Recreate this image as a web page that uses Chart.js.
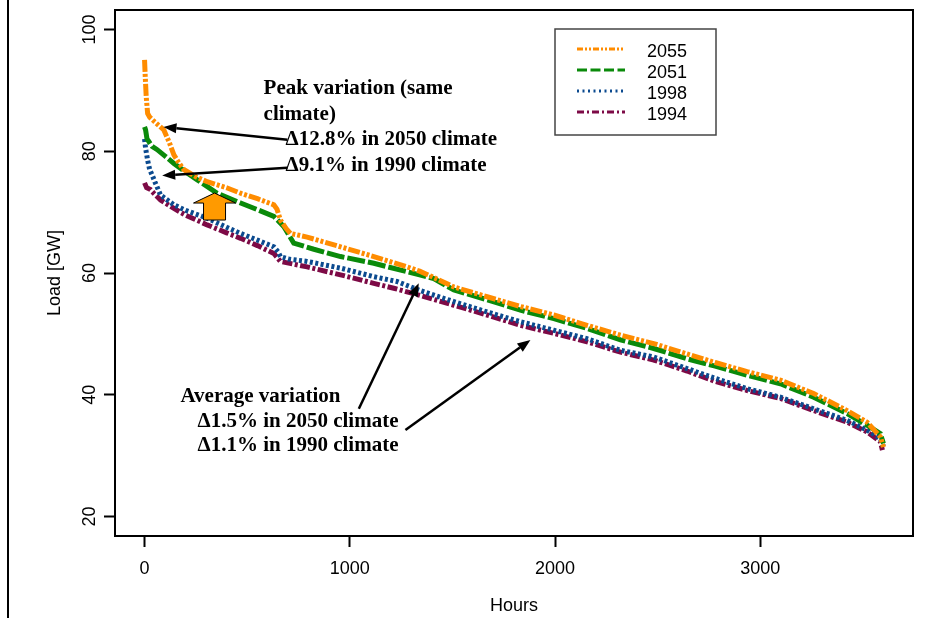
<!DOCTYPE html>
<html><head><meta charset="utf-8">
<script src="https://cdn.jsdelivr.net/npm/chart.js@4/dist/chart.umd.min.js"></script>
<style>html,body{margin:0;padding:0;background:#fff;} canvas{display:block;}</style>
</head><body>
<canvas id="c" width="952" height="618"></canvas>
<script>
const seriesLabels = ['2055', '2051', '1998', '1994'];

const hours2055 = [0, 3, 8, 15, 25, 50, 94, 120, 143, 165, 191, 250, 305, 400, 468, 550, 630, 645, 662, 690, 711, 792, 955, 1117, 1280, 1340, 1400, 1507, 1669, 1831, 1994, 2156, 2319, 2481, 2643, 2780, 2936, 3098, 3260, 3423, 3520, 3585, 3600];
const load2055  = [95.0, 92.5, 89.0, 86.2, 85.6, 84.8, 83.5, 81.5, 79.4, 78.2, 77.0, 75.8, 75.0, 74.0, 73.1, 72.2, 71.2, 70.5, 68.7, 67.3, 66.5, 65.9, 64.3, 62.7, 61.0, 60.3, 59.4, 57.7, 56.1, 54.5, 53.1, 51.4, 49.8, 48.4, 46.7, 45.3, 43.8, 42.4, 40.2, 37.4, 35.5, 33.1, 31.4];

const hours2051 = [0, 5, 12, 21, 37, 60, 100, 143, 200, 257, 354, 468, 550, 630, 679, 727, 825, 955, 1117, 1280, 1340, 1409, 1507, 1669, 1831, 1994, 2156, 2319, 2481, 2643, 2780, 2936, 3098, 3260, 3423, 3520, 3585, 3600];
const load2051  = [84.0, 83.5, 82.0, 81.6, 80.8, 80.3, 79.2, 78.0, 76.6, 75.3, 73.1, 71.5, 70.4, 69.3, 67.6, 64.9, 63.9, 62.7, 61.6, 60.2, 59.7, 59.1, 57.2, 55.6, 53.9, 52.5, 50.9, 49.0, 47.6, 45.9, 44.7, 43.2, 41.8, 39.6, 36.9, 35.0, 33.6, 32.0];

const hours1998 = [0, 5, 15, 25, 37, 50, 78, 143, 200, 305, 400, 468, 550, 630, 650, 662, 700, 792, 955, 1117, 1230, 1344, 1507, 1669, 1831, 1994, 2156, 2319, 2481, 2643, 2780, 2936, 3098, 3260, 3423, 3520, 3585, 3600];
const load1998  = [82.0, 80.5, 78.5, 77.0, 76.1, 75.0, 72.8, 71.2, 70.3, 69.0, 67.5, 66.5, 65.4, 64.3, 63.5, 62.7, 62.3, 61.9, 60.8, 59.4, 58.6, 57.1, 55.3, 53.6, 52.0, 50.6, 49.2, 47.3, 46.2, 44.3, 42.7, 41.0, 39.6, 37.7, 35.8, 34.2, 32.8, 31.5];

const hours1994 = [0, 10, 29, 45, 78, 143, 200, 305, 400, 468, 550, 630, 662, 792, 955, 1117, 1214, 1344, 1507, 1669, 1831, 1994, 2156, 2319, 2481, 2643, 2780, 2936, 3098, 3260, 3423, 3520, 3585, 3595];
const load1994  = [74.8, 74.0, 73.7, 73.1, 72.0, 70.6, 69.5, 67.9, 66.6, 65.7, 64.5, 63.2, 61.9, 61.0, 59.7, 58.3, 57.5, 56.3, 54.7, 53.1, 51.4, 50.1, 48.7, 47.0, 45.7, 43.9, 42.2, 40.7, 39.4, 37.4, 35.5, 33.9, 32.3, 30.9];

const xTicks = [0, 1000, 2000, 3000];
const yTicks = [20, 40, 60, 80, 100];
const xTitle = 'Hours';
const yTitle = 'Load [GW]';

const peakNotes = ['Peak variation (same', 'climate)', 'Δ12.8% in 2050 climate', 'Δ9.1% in 1990 climate'];
const avgNotes = ['Average variation', 'Δ1.5% in 2050 climate', 'Δ1.1% in 1990 climate'];

function pts(h, v) { return h.map((x, i) => ({x: x, y: v[i]})); }

const SANS = '"Liberation Sans", Arial, sans-serif';
const SERIF = '"Liberation Serif", "Times New Roman", serif';

// annotation anchors in data coordinates
const notes = [
  {text: peakNotes[0], h: 580, v: 90.3},
  {text: peakNotes[1], h: 580, v: 86.0},
  {text: peakNotes[2], h: 687, v: 81.9},
  {text: peakNotes[3], h: 687, v: 77.6},
  {text: avgNotes[0], h: 175, v: 39.75},
  {text: avgNotes[1], h: 258, v: 35.6},
  {text: avgNotes[2], h: 258, v: 31.7}
];
const arrows = [
  {from: [696, 81.9], to: [92, 84.0]},
  {from: [696, 77.3], to: [86, 76.0]},
  {from: [1044, 37.7], to: [1336, 58.3]},
  {from: [1271, 34.2], to: [1880, 49.0]}
];
const blockArrowBase = {h: 341, v: 68.7};

const overlay = {
  id: 'overlay',
  afterDraw(chart) {
    const {ctx, chartArea: a, scales: {x, y}} = chart;
    ctx.save();
    ctx.strokeStyle = '#000';
    ctx.lineWidth = 2;
    ctx.setLineDash([]);
    ctx.strokeRect(a.left, a.top, a.right - a.left, a.bottom - a.top);
    ctx.beginPath(); ctx.moveTo(8, 0); ctx.lineTo(8, chart.height); ctx.stroke();

    ctx.fillStyle = '#000';
    ctx.font = '18px ' + SANS;
    ctx.textAlign = 'center';
    ctx.textBaseline = 'middle';
    yTicks.forEach(v => {
      const py = y.getPixelForValue(v);
      ctx.save();
      ctx.translate(a.left - 25, py);
      ctx.rotate(-Math.PI / 2);
      ctx.fillText(String(v), 0, 0);
      ctx.restore();
    });

    const lg = {left: a.right - 358, top: a.top + 19, w: 161, h: 106};
    ctx.lineWidth = 1.5;
    ctx.strokeStyle = '#444';
    ctx.strokeRect(lg.left, lg.top, lg.w, lg.h);
    chart.data.datasets.forEach((ds, i) => {
      const ly = lg.top + 20 + i * 21;
      ctx.strokeStyle = ds.borderColor;
      ctx.lineWidth = 3;
      ctx.setLineDash(ds.legendDash);
      ctx.beginPath(); ctx.moveTo(lg.left + 22, ly); ctx.lineTo(lg.left + 70, ly); ctx.stroke();
      ctx.setLineDash([]);
      ctx.fillStyle = '#000';
      ctx.font = '18px ' + SANS;
      ctx.textAlign = 'left';
      ctx.textBaseline = 'middle';
      ctx.fillText(ds.label, lg.left + 92, ly + 3);
    });

    ctx.fillStyle = '#000';
    ctx.font = 'bold 21px ' + SERIF;
    ctx.textAlign = 'left';
    ctx.textBaseline = 'middle';
    notes.forEach(n => ctx.fillText(n.text, x.getPixelForValue(n.h), y.getPixelForValue(n.v)));

    ctx.strokeStyle = '#000';
    ctx.fillStyle = '#000';
    ctx.lineWidth = 2.5;
    arrows.forEach(ar => {
      const x1 = x.getPixelForValue(ar.from[0]), y1 = y.getPixelForValue(ar.from[1]);
      const x2 = x.getPixelForValue(ar.to[0]), y2 = y.getPixelForValue(ar.to[1]);
      const ang = Math.atan2(y2 - y1, x2 - x1);
      const L = 13, W = 5;
      const bx = x2 - L * Math.cos(ang), by = y2 - L * Math.sin(ang);
      ctx.beginPath(); ctx.moveTo(x1, y1); ctx.lineTo(bx, by); ctx.stroke();
      ctx.beginPath();
      ctx.moveTo(x2, y2);
      ctx.lineTo(bx + W * Math.sin(ang), by - W * Math.cos(ang));
      ctx.lineTo(bx - W * Math.sin(ang), by + W * Math.cos(ang));
      ctx.closePath(); ctx.fill();
    });

    const cx = x.getPixelForValue(blockArrowBase.h), cy = y.getPixelForValue(blockArrowBase.v);
    ctx.beginPath();
    ctx.moveTo(cx - 11, cy);
    ctx.lineTo(cx - 11, cy - 17);
    ctx.lineTo(cx - 21, cy - 17);
    ctx.lineTo(cx, cy - 27);
    ctx.lineTo(cx + 21, cy - 17);
    ctx.lineTo(cx + 11, cy - 17);
    ctx.lineTo(cx + 11, cy);
    ctx.closePath();
    ctx.fillStyle = '#FF9A00';
    ctx.fill();
    ctx.lineWidth = 1;
    ctx.strokeStyle = '#000';
    ctx.stroke();
    ctx.restore();
  }
};

const datasets = [
  {label: seriesLabels[0], data: pts(hours2055, load2055), borderColor: '#FF8C00', borderDash: [12, 2, 3, 2, 3, 2], legendDash: [6, 2, 2, 2, 2, 2]},
  {label: seriesLabels[1], data: pts(hours2051, load2051), borderColor: '#0A8A0A', borderDash: [18, 3], legendDash: [10, 3.5]},
  {label: seriesLabels[2], data: pts(hours1998, load1998), borderColor: '#0B4A8F', borderDash: [3, 2.5], legendDash: [2, 3.5]},
  {label: seriesLabels[3], data: pts(hours1994, load1994), borderColor: '#7D0A46', borderDash: [10, 2.5, 3, 2.5], legendDash: [7, 3, 2, 3]}
].map(d => Object.assign(d, {borderWidth: 5, pointRadius: 0, tension: 0, fill: false}));

datasets[0].order = 0; datasets[1].order = 1; datasets[2].order = 2; datasets[3].order = 3;

new Chart(document.getElementById('c'), {
  type: 'line',
  data: {datasets: datasets},
  options: {
    responsive: false,
    animation: false,
    layout: {padding: {left: 0, top: 10, right: 39, bottom: 0}},
    plugins: {legend: {display: false}, tooltip: {enabled: false}},
    scales: {
      x: {
        type: 'linear', min: -144, max: 3744,
        afterBuildTicks: s => { s.ticks = xTicks.map(v => ({value: v})); },
        afterFit: s => { s.height = 82; },
        border: {display: false},
        grid: {drawOnChartArea: false, drawTicks: true, tickLength: 11, tickWidth: 2, tickColor: '#000'},
        ticks: {color: '#000', padding: 11, maxRotation: 0, font: {family: SANS, size: 18}, callback: v => String(v)},
        title: {display: true, text: xTitle, color: '#000', font: {family: SANS, size: 18}, padding: {top: 0, bottom: 1}}
      },
      y: {
        type: 'linear', min: 16.8, max: 103.2,
        afterBuildTicks: s => { s.ticks = yTicks.map(v => ({value: v})); },
        afterFit: s => { s.width = 115; },
        border: {display: false},
        grid: {drawOnChartArea: false, drawTicks: true, tickLength: 11, tickWidth: 2, tickColor: '#000'},
        ticks: {display: false},
        title: {display: true, text: yTitle, color: '#000', font: {family: SANS, size: 18}, padding: {top: 44, bottom: 0}}
      }
    }
  },
  plugins: [overlay]
});
</script>
</body></html>
